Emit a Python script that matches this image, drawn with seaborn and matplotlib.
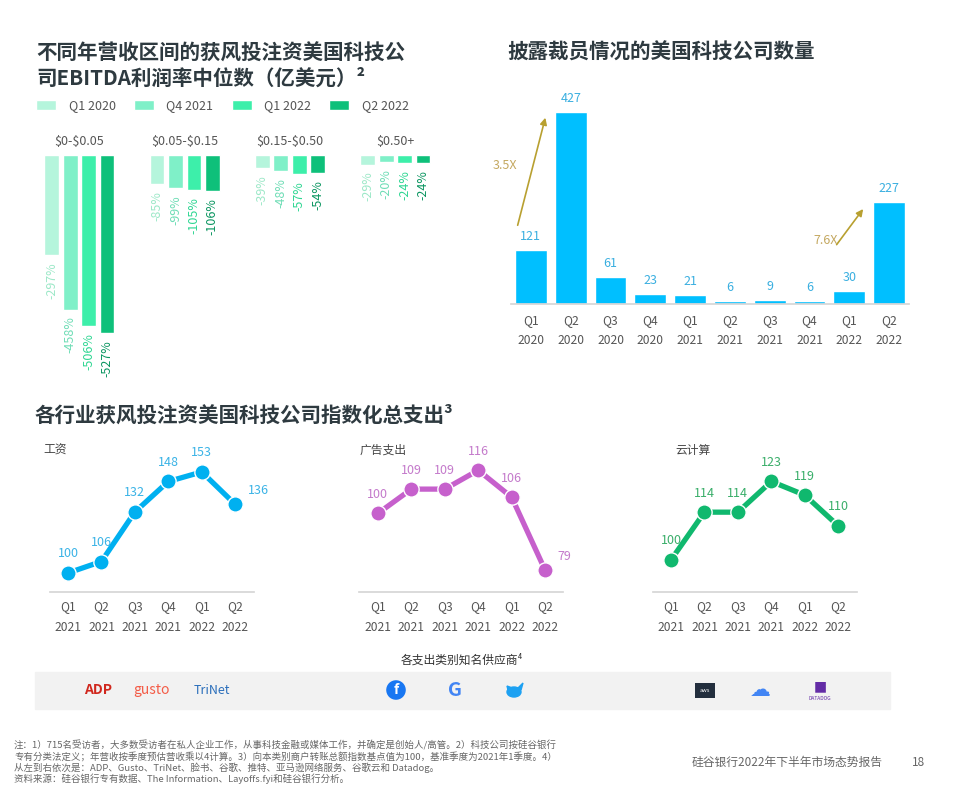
import numpy as np
import pandas as pd
import seaborn as sns
import matplotlib.pyplot as plt
from matplotlib.patches import Rectangle, Ellipse, Polygon

# data
rev_bands = ['$0-$0.05', '$0.05-$0.15', '$0.15-$0.50', '$0.50+']
margin_quarters = ['Q1 2020', 'Q4 2021', 'Q1 2022', 'Q2 2022']
margin_q1_2020 = [-297, -85, -39, -29]
margin_q4_2021 = [-458, -99, -48, -20]
margin_q1_2022 = [-506, -105, -57, -24]
margin_q2_2022 = [-527, -106, -54, -24]

layoff_quarters = ['Q1\n2020', 'Q2\n2020', 'Q3\n2020', 'Q4\n2020', 'Q1\n2021',
                   'Q2\n2021', 'Q3\n2021', 'Q4\n2021', 'Q1\n2022', 'Q2\n2022']
layoff_counts = [121, 427, 61, 23, 21, 6, 9, 6, 30, 227]

spend_quarters = ['Q1\n2021', 'Q2\n2021', 'Q3\n2021', 'Q4\n2021', 'Q1\n2022', 'Q2\n2022']
payroll = [100, 106, 132, 148, 153, 136]
advertising = [100, 109, 109, 116, 106, 79]
cloud = [100, 114, 114, 123, 119, 110]

# colours
margin_colors = ['#B5F5DC', '#7FF0C8', '#3DEFAA', '#0EC07A']
margin_text_colors = ['#9DE8C8', '#6FDDB6', '#2ED692', '#0A9560']
title_color = '#2E3A40'
grey = '#555555'

sns.set_theme(style='white')
plt.rcParams['font.family'] = ['Noto Sans CJK SC', 'DejaVu Sans']
plt.rcParams['text.parse_math'] = False

W, H = 954, 792
fig = plt.figure(figsize=(W / 100, H / 100), dpi=100)


def fx(px):
    return px / W


def fy(py):
    return 1 - py / H


TS = 14.8

# ---------- top left: EBITDA margin ----------
fig.text(fx(36), fy(53), '不同年营收区间的获风投注资美国科技公', fontsize=TS,
         fontweight='bold', color=title_color, va='center')
fig.text(fx(36), fy(78), '司EBITDA利润率中位数（亿美元）²', fontsize=TS,
         fontweight='bold', color=title_color, va='center')

ax1 = fig.add_axes([fx(26.8), fy(371), fx(421.2), (371 - 155) / H])
df_margin = pd.DataFrame({
    'band': np.tile(rev_bands, 4),
    'quarter': np.repeat(margin_quarters, 4),
    'margin': np.concatenate([margin_q1_2020, margin_q4_2021, margin_q1_2022, margin_q2_2022]),
})
sns.barplot(data=df_margin, x='band', y='margin', hue='quarter', palette=margin_colors,
            width=0.7, gap=0.2, saturation=1, ax=ax1)
for cont, tc in zip(ax1.containers, margin_text_colors):
    for bar in cont:
        v = bar.get_height()
        ax1.annotate(f'{v:.0f}%', (bar.get_x() + bar.get_width() / 2, v),
                     xytext=(0, -5), textcoords='offset points', rotation=90,
                     ha='center', va='top', fontsize=9, color=tc)
ax1.set_ylim(-640, 0)
ax1.set_xlim(-0.5, 3.5)
ax1.xaxis.tick_top()
ax1.tick_params(axis='x', length=0, pad=5, labelsize=9, labelcolor=grey)
ax1.set_xlabel('')
ax1.set_ylabel('')
ax1.set_yticks([])
sns.despine(ax=ax1, left=True, bottom=True)
ax1.spines['top'].set_visible(False)
handles, labels = ax1.get_legend_handles_labels()
ax1.legend(handles, labels, ncol=4, loc='center left',
           bbox_to_anchor=(fx(25), fy(106)), bbox_transform=fig.transFigure,
           frameon=False, handlelength=1.6, handleheight=0.9, handletextpad=1.0,
           columnspacing=1.45, fontsize=9, labelcolor=grey)

# ---------- top right: layoffs ----------
fig.text(fx(507), fy(52), '披露裁员情况的美国科技公司数量', fontsize=TS,
         fontweight='bold', color=title_color, va='center')
ax2 = fig.add_axes([fx(511), fy(304), fx(398), (304 - 92.5) / H])
sns.barplot(x=layoff_quarters, y=layoff_counts, color='#00BFFF', width=0.8,
            saturation=1, ax=ax2)
ax2.bar_label(ax2.containers[0], padding=5, color='#3AAFE0', fontsize=9)
ax2.set_ylim(0, 470)
ax2.set_xlim(-0.5, 9.5)
ax2.set_yticks([])
ax2.tick_params(axis='x', length=0, pad=7, labelsize=8.7, labelcolor=grey)
for t in ax2.get_xticklabels():
    t.set_linespacing(1.75)
sns.despine(ax=ax2, left=True)
ax2.spines['bottom'].set_color('#D6D6D6')

gold = '#B8A030'
ax2.annotate('', xy=(0.38, 420), xytext=(-0.35, 169),
             arrowprops=dict(arrowstyle='-|>', color=gold, lw=1.2, mutation_scale=10))
ax2.annotate('', xy=(8.39, 216), xytext=(7.64, 127),
             arrowprops=dict(arrowstyle='-|>', color=gold, lw=1.2, mutation_scale=10))
ax2.text(-0.65, 307, '3.5X', color='#C4A860', fontsize=9, ha='center', va='center')
ax2.text(7.41, 142, '7.6X', color='#C4A860', fontsize=9, ha='center', va='center')

# ---------- bottom: indexed spend ----------
fig.text(fx(35), fy(415), '各行业获风投注资美国科技公司指数化总支出³', fontsize=TS,
         fontweight='bold', color=title_color, va='center')


def spend_panel(left_px, values, color, text_color, ylim, name, name_px):
    ax = fig.add_axes([fx(left_px), fy(592), fx(204), (592 - 458.6) / H])
    sns.lineplot(x=spend_quarters, y=values, color=color, lw=3.8, marker='o',
                 markersize=11, markeredgecolor='white', markeredgewidth=1,
                 sort=False, ax=ax)
    for i, v in enumerate(values):
        if i == len(values) - 1 and v < values[i - 1] - 15:
            ax.annotate(str(v), (i, v), xytext=(9, 5), textcoords='offset points',
                        ha='left', va='bottom', fontsize=9, color=text_color)
        else:
            ax.annotate(str(v), (i, v), xytext=(0, 9), textcoords='offset points',
                        ha='center', va='bottom', fontsize=9, color=text_color)
    ax.set_xlim(-0.55, 5.55)
    ax.set_ylim(*ylim)
    ax.set_yticks([])
    ax.tick_params(axis='x', length=0, pad=6, labelsize=8.7, labelcolor=grey)
    for t in ax.get_xticklabels():
        t.set_linespacing(1.75)
    sns.despine(ax=ax, left=True)
    ax.spines['bottom'].set_color('#D6D6D6')
    fig.text(fx(name_px), fy(450), name, fontsize=8.5, color='#444444', va='center')
    return ax


spend_panel(49.6, payroll, '#00B0F0', '#3AB3E6', (90, 160), '工资', 43)
spend_panel(359.5, advertising, '#C660CC', '#C47ACB', (70.9, 120.3), '广告支出', 360)
spend_panel(652.6, cloud, '#10B86E', '#3AAE6A', (90.6, 129.7), '云计算', 675)

# ---------- vendor logos band ----------
fig.text(fx(462), fy(660), '各支出类别知名供应商⁴', fontsize=8.5, color='#333333',
         ha='center', va='center')
fig.patches.append(Rectangle((fx(35), fy(709)), fx(855), (709 - 672) / H,
                             transform=fig.transFigure, color='#F2F2F2', zorder=0))
ly = fy(690)
fig.text(fx(98), ly, 'ADP', fontsize=10, fontweight='bold', style='italic',
         color='#D0271D', ha='center', va='center')
fig.text(fx(152), ly, 'gusto', fontsize=10, color='#F45D48', ha='center', va='center')
fig.text(fx(212), ly, 'TriNet', fontsize=9, color='#2A6EBB', ha='center', va='center')
fig.text(fx(396), ly, 'f', fontsize=10, fontweight='bold', color='white', ha='center',
         va='center', bbox=dict(boxstyle='circle,pad=0.2', fc='#1877F2', ec='none'))
fig.text(fx(455), ly, 'G', fontsize=14, fontweight='bold', color='#4285F4',
         ha='center', va='center')
# twitter bird, drawn as a simple shape
fig.patches.append(Ellipse((fx(514), fy(692)), fx(14), 10 / H, transform=fig.transFigure,
                           color='#1DA1F2'))
fig.patches.append(Polygon([(fx(507), fy(686)), (fx(515), fy(689)), (fx(509), fy(694))],
                           closed=True, transform=fig.transFigure, color='#1DA1F2'))
fig.patches.append(Polygon([(fx(518), fy(688)), (fx(523), fy(683)), (fx(521), fy(690))],
                           closed=True, transform=fig.transFigure, color='#1DA1F2'))
fig.text(fx(705), ly, 'aws', fontsize=4, color='white', ha='center', va='center',
         bbox=dict(boxstyle='square,pad=0.9', fc='#232F3E', ec='none'))
fig.text(fx(760), ly, '☁', fontsize=15, color='#4285F4', ha='center', va='center',
         family=['DejaVu Sans'])
fig.text(fx(820), fy(686), '■', fontsize=10, color='#632CA6', ha='center', va='center',
         family=['DejaVu Sans'])
fig.text(fx(820), fy(699), 'DATADOG', fontsize=3.5, color='#632CA6', ha='center', va='center')

# ---------- footnotes ----------
notes = [
    '注：1）715名受访者，大多数受访者在私人企业工作，从事科技金融或媒体工作，并确定是创始人/高管。2）科技公司按硅谷银行',
    '专有分类法定义；年营收按季度预估营收乘以4计算。3）向本类别商户转账总额指数基点值为100，基准季度为2021年1季度。4）',
    '从左到右依次是：ADP、Gusto、TriNet、脸书、谷歌、推特、亚马逊网络服务、谷歌云和 Datadog。',
]
for i, line in enumerate(notes):
    fig.text(fx(14), fy(745 + i * 11.5), line, fontsize=6.8, color='#666666', va='center')
fig.text(fx(14), fy(779), '资料来源：硅谷银行专有数据、The Information、Layoffs.fyi和硅谷银行分析。',
         fontsize=6.8, color='#666666', va='center')
fig.text(fx(883), fy(762), '硅谷银行2022年下半年市场态势报告', fontsize=8.5,
         color='#666666', ha='right', va='center')
fig.text(fx(912), fy(762), '18', fontsize=8.5, color='#666666', ha='left', va='center')

fig.savefig('out.png', dpi=100, facecolor='white')
